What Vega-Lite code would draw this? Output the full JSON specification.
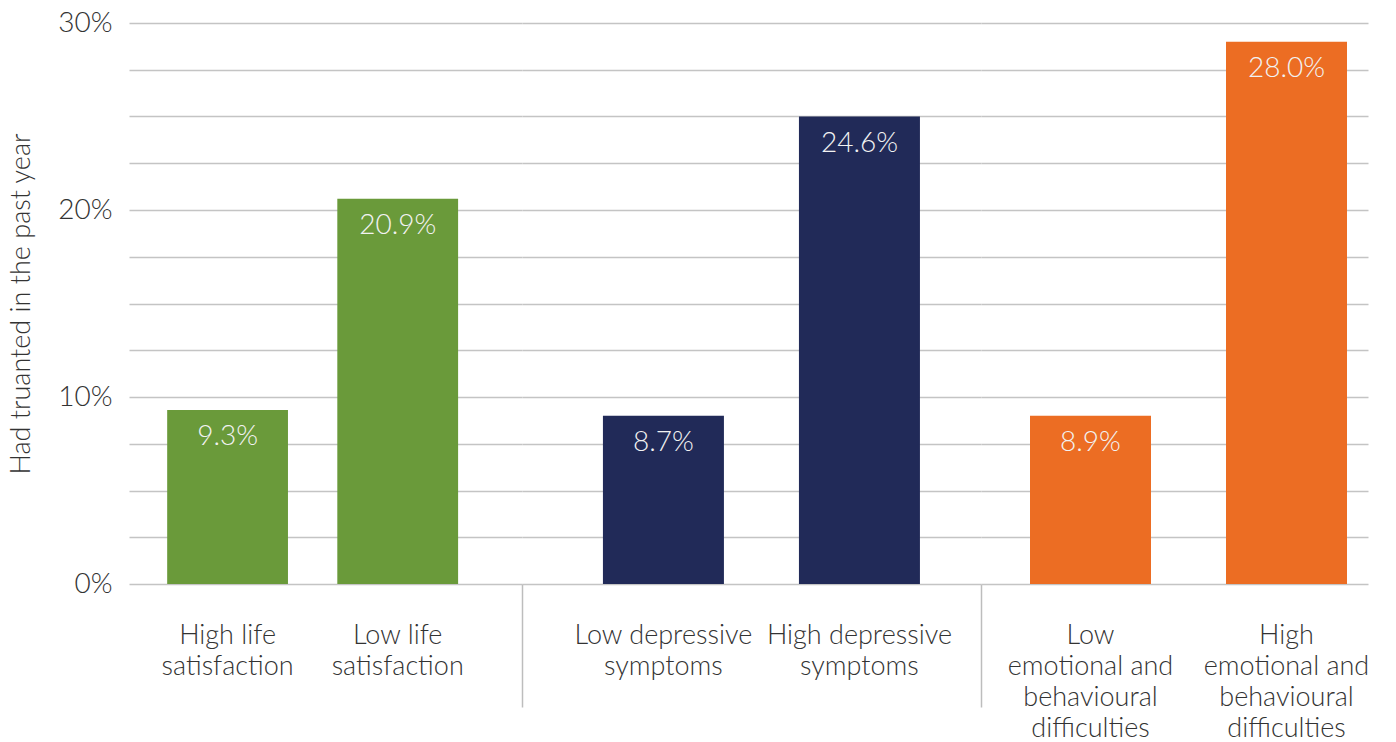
{
  "$schema": "https://vega.github.io/schema/vega-lite/v6.json",
  "padding": {"left": 7, "top": 9, "right": 0, "bottom": 0},
  "background": "white",
  "config": {
    "view": {"stroke": null},
    "font": "Lato",
    "axis": {"labelFont": "Lato", "titleFont": "Lato"}
  },
  "datasets": {
    "bars": [
      {"group": "Life satisfaction", "category": "High life satisfaction", "value": 9.3, "label": "9.3%"},
      {"group": "Life satisfaction", "category": "Low life satisfaction", "value": 20.6, "label": "20.9%"},
      {"group": "Depressive symptoms", "category": "Low depressive symptoms", "value": 9.0, "label": "8.7%"},
      {"group": "Depressive symptoms", "category": "High depressive symptoms", "value": 25.0, "label": "24.6%"},
      {"group": "Emotional and behavioural difficulties", "category": "Low emotional and behavioural difficulties", "value": 9.0, "label": "8.9%"},
      {"group": "Emotional and behavioural difficulties", "category": "High emotional and behavioural difficulties", "value": 29.0, "label": "28.0%"}
    ]
  },
  "spacing": 0,
  "bounds": "flush",
  "hconcat": [
    {
      "width": 393,
      "height": 561,
      "data": {"name": "bars"},
      "transform": [{"filter": "datum.group === 'Life satisfaction'"}],
      "encoding": {
        "x": {
          "field": "category", "type": "nominal", "sort": null,
          "scale": {"paddingInner": 0.29, "paddingOuter": 0.3, "align": 0.374},
          "axis": {
            "title": null, "labelAngle": 0, "ticks": false, "domain": false, "grid": false,
            "labelFontSize": 27, "labelFontWeight": 300, "labelColor": "#333333",
            "labelLineHeight": 31, "labelPadding": 38, "labelBaseline": "top",
            "labelLimit": 400, "labelOverlap": false,
            "labelExpr": "[slice(datum.label, 0, lastindexof(datum.label, ' ')), slice(datum.label, lastindexof(datum.label, ' ') + 1)]"
          }
        },
        "y": {
          "field": "value", "type": "quantitative",
          "scale": {"domain": [0, 30], "nice": false, "zero": true},
          "axis": {
            "values": [0, 2.5, 5, 7.5, 10, 12.5, 15, 17.5, 20, 22.5, 25, 27.5, 30],
            "labelExpr": "datum.value % 10 === 0 ? datum.value + '%' : ''",
            "title": "Had truanted in the past year",
            "grid": true, "gridColor": "#c4c4c4", "gridWidth": 1.5,
            "ticks": false, "domain": false,
            "labelFontSize": 28, "labelFontWeight": 300, "labelColor": "#333333", "labelPadding": 17,
            "titleFontSize": 27, "titleFontWeight": 300, "titleColor": "#333333", "titlePadding": 22
          }
        },
        "color": {
          "field": "group", "type": "nominal", "legend": null,
          "scale": {
            "domain": ["Life satisfaction", "Depressive symptoms", "Emotional and behavioural difficulties"],
            "range": ["#6a9a3a", "#212a58", "#ec6d23"]
          }
        }
      },
      "layer": [
        {"mark": {"type": "bar"}},
        {
          "mark": {"type": "text", "baseline": "middle", "dy": 27, "color": "#f2f2f2", "fontSize": 28, "fontWeight": 300},
          "encoding": {"text": {"field": "label"}, "color": {"value": "#f2f2f2"}}
        }
      ]
    },
    {
      "width": 459,
      "height": 561,
      "data": {"name": "bars"},
      "transform": [{"filter": "datum.group === 'Depressive symptoms'"}],
      "layer": [
        {
          "encoding": {
            "x": {
              "field": "category", "type": "nominal", "sort": null,
              "scale": {"paddingInner": 0.3827, "paddingOuter": 0.3622, "align": 0.57},
              "axis": {
                "orient": "bottom",
                "title": null, "labelAngle": 0, "ticks": false, "domain": false, "grid": false,
                "labelFontSize": 27, "labelFontWeight": 300, "labelColor": "#333333",
                "labelLineHeight": 31, "labelPadding": 38, "labelBaseline": "top",
                "labelLimit": 400, "labelOverlap": false,
                "labelExpr": "[slice(datum.label, 0, lastindexof(datum.label, ' ')), slice(datum.label, lastindexof(datum.label, ' ') + 1)]"
              }
            },
            "y": {
              "field": "value", "type": "quantitative",
              "scale": {"domain": [0, 30], "nice": false, "zero": true},
              "axis": {
                "values": [0, 2.5, 5, 7.5, 10, 12.5, 15, 17.5, 20, 22.5, 25, 27.5, 30],
                "labels": false, "title": null, "grid": true, "gridColor": "#c4c4c4", "gridWidth": 1.5,
                "ticks": false, "domain": false
              }
            },
            "color": {
              "field": "group", "type": "nominal", "legend": null,
              "scale": {
                "domain": ["Life satisfaction", "Depressive symptoms", "Emotional and behavioural difficulties"],
                "range": ["#6a9a3a", "#212a58", "#ec6d23"]
              }
            }
          },
          "layer": [
            {"mark": {"type": "bar"}},
            {
              "mark": {"type": "text", "baseline": "middle", "dy": 27, "color": "#f2f2f2", "fontSize": 28, "fontWeight": 300},
              "encoding": {"text": {"field": "label"}, "color": {"value": "#f2f2f2"}}
            }
          ]
        },
        {
          "mark": {"type": "bar", "opacity": 0},
          "encoding": {
            "x": {
              "field": "group", "type": "nominal",
              "scale": {"paddingInner": 0, "paddingOuter": 0},
              "axis": {
                "orient": "bottom", "title": null, "labels": false, "domain": false, "grid": false,
                "ticks": true, "tickBand": "extent", "tickSize": 123, "tickColor": "#bdbdbd", "tickWidth": 1.5
              }
            },
            "y": {"datum": 0, "type": "quantitative", "stack": null}
          }
        }
      ],
      "resolve": {"scale": {"x": "independent"}, "axis": {"x": "independent"}}
    },
    {
      "width": 387,
      "height": 561,
      "data": {"name": "bars"},
      "transform": [{"filter": "datum.group === 'Emotional and behavioural difficulties'"}],
      "encoding": {
        "x": {
          "field": "category", "type": "nominal", "sort": null,
          "scale": {"paddingInner": 0.3827, "paddingOuter": 0.1786, "align": 0.7},
          "axis": {
            "title": null, "labelAngle": 0, "ticks": false, "domain": false, "grid": false,
            "labelFontSize": 27, "labelFontWeight": 300, "labelColor": "#333333",
            "labelLineHeight": 31, "labelPadding": 38, "labelBaseline": "top",
            "labelLimit": 400, "labelOverlap": false,
            "labelExpr": "[split(datum.label, ' ')[0], split(datum.label, ' ')[1] + ' ' + split(datum.label, ' ')[2], split(datum.label, ' ')[3], split(datum.label, ' ')[4]]"
          }
        },
        "y": {
          "field": "value", "type": "quantitative",
          "scale": {"domain": [0, 30], "nice": false, "zero": true},
          "axis": {
            "values": [0, 2.5, 5, 7.5, 10, 12.5, 15, 17.5, 20, 22.5, 25, 27.5, 30],
            "labels": false, "title": null, "grid": true, "gridColor": "#c4c4c4", "gridWidth": 1.5,
            "ticks": false, "domain": false
          }
        },
        "color": {
          "field": "group", "type": "nominal", "legend": null,
          "scale": {
            "domain": ["Life satisfaction", "Depressive symptoms", "Emotional and behavioural difficulties"],
            "range": ["#6a9a3a", "#212a58", "#ec6d23"]
          }
        }
      },
      "layer": [
        {"mark": {"type": "bar"}},
        {
          "mark": {"type": "text", "baseline": "middle", "dy": 27, "color": "#f2f2f2", "fontSize": 28, "fontWeight": 300},
          "encoding": {"text": {"field": "label"}, "color": {"value": "#f2f2f2"}}
        }
      ]
    }
  ]
}
